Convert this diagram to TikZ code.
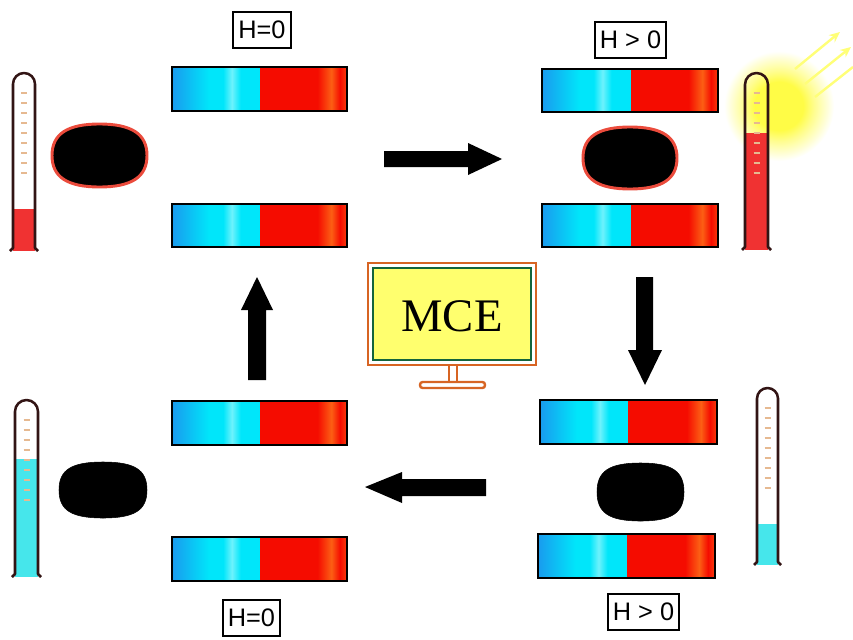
\documentclass[tikz,border=0pt]{standalone}
\usepackage{fontspec}
\newfontfamily\labelfont{Liberation Sans}
\newfontfamily\screenfont{Liberation Serif}
\usetikzlibrary{arrows.meta}

% palette
\definecolor{magblue}{RGB}{25,155,238}
\definecolor{magcyan}{RGB}{0,230,250}
\definecolor{magglint}{RGB}{110,242,252}
\definecolor{magred}{RGB}{245,12,0}
\definecolor{magorange}{RGB}{252,95,20}
\definecolor{thermoline}{RGB}{50,20,20}
\definecolor{hotfluid}{RGB}{240,50,50}
\definecolor{coldfluid}{RGB}{70,230,235}
\definecolor{tickcol}{RGB}{230,185,145}
\definecolor{puckrim}{RGB}{235,75,60}
\definecolor{screenframe}{RGB}{215,100,35}
\definecolor{screenedge}{RGB}{20,100,60}
\definecolor{screenfill}{RGB}{255,255,110}
\definecolor{sunyellow}{RGB}{255,252,70}
\definecolor{raycol}{RGB}{255,255,120}

% bar-magnet halves (the path spans 25bp..75bp of the shading)
\pgfdeclarehorizontalshading{magleft}{100bp}{color(0bp)=(magblue); color(25bp)=(magblue);
  color(46bp)=(magcyan); color(54bp)=(magcyan); color(59bp)=(magglint); color(64bp)=(magcyan);
  color(75bp)=(magcyan); color(100bp)=(magcyan)}
\pgfdeclarehorizontalshading{magright}{100bp}{color(0bp)=(magred); color(25bp)=(magred);
  color(58bp)=(magred); color(66bp)=(magorange); color(71bp)=(magred); color(75bp)=(magorange!60!magred);
  color(100bp)=(magorange!60!magred)}
% glow of the sun (25bp is the rim of the circle)
\pgfdeclareradialshading{sunglow}{\pgfpoint{0bp}{0bp}}{color(0bp)=(sunyellow); color(11bp)=(sunyellow);
  color(16bp)=(sunyellow!60!white); color(25bp)=(white); color(50bp)=(white)}

% magnet: x1, y1, split x, x2, y2
\newcommand\magbar[5]{%
  \shade[shading=magleft] (#1,#2) rectangle (#3,#5);
  \shade[shading=magright] (#3,#2) rectangle (#4,#5);
  \draw[line width=2.2pt] (#1,#2) rectangle (#4,#5);
}
% thermometer: left x, right x, top, bottom, fluid level, fluid colour
\newcommand\thermo[6]{%
  \fill[#6] (#1,#5) rectangle (#2,#4);
  \foreach \k in {0,...,8}
    \draw[tickcol, line width=0.8pt] ({(#1+#2)/2-3},{#3+20+10*\k}) -- ({(#1+#2)/2+3},{#3+20+10*\k});
  \draw[thermoline, line width=1.9pt, line join=round]
    (#1-3,#4) -- (#1,#4-3) -- (#1,{#3+(#2-#1)/2})
    arc[start angle=180, end angle=360, radius={(#2-#1)/2}]
    -- (#2,#4-3) -- (#2+3,#4);
}
% sample puck, a squarish oval: centre x, centre y, half width, half height, fullness, style
\newcommand\puck[6]{%
  \draw[#6] ({#1-#3},#2)
    .. controls ({#1-#3},{#2-#5*#4}) and ({#1-#5*#3},{#2-#4}) .. (#1,{#2-#4})
    .. controls ({#1+#5*#3},{#2-#4}) and ({#1+#3},{#2-#5*#4}) .. ({#1+#3},#2)
    .. controls ({#1+#3},{#2+#5*#4}) and ({#1+#5*#3},{#2+#4}) .. (#1,{#2+#4})
    .. controls ({#1-#5*#3},{#2+#4}) and ({#1-#3},{#2+#5*#4}) .. ({#1-#3},#2) -- cycle;
}

\tikzset{
  rimmed/.style={fill=black, draw=puckrim, line width=2.2pt},
  bare/.style={fill=black},
  labelbox/.style={draw, line width=1.5pt, fill=white, font=\labelfont\fontsize{19}{21}\selectfont,
    inner xsep=4pt, inner ysep=0pt, minimum height=27pt},
  bigarrow/.style={fill=black},
  sunray/.style={raycol, line width=1.8pt},
}

\begin{document}
\begin{tikzpicture}[x=0.75pt, y=-0.75pt]
\fill[white] (0,0) rectangle (853,639);
\useasboundingbox (0,0) rectangle (853,639);

% ---------- top left: H = 0, warm sample
\node[labelbox] (h0top) at (262,29.5) {H=0};
\magbar{172}{67}{260}{347}{111}
\magbar{172}{204}{260}{347}{247}
\puck{99.5}{155.5}{47.5}{31.5}{0.68}{rimmed}
\thermo{13}{35}{73}{251}{209}{hotfluid}

% ---------- top right: H > 0, heated sample
\node[labelbox] (hptop) at (630.5,39.5) {H > 0};
\magbar{542}{69}{631}{718}{112}
\magbar{542}{204}{631}{718}{247}
\puck{630}{158}{47}{31}{0.68}{rimmed}
\shade[shading=sunglow] (779,106) circle (55);
\thermo{745}{768}{73}{250}{133}{hotfluid}
\draw[sunray, -{Stealth[length=8pt,width=7pt]}] (795,69) -- (840,32);
\draw[sunray, -{Stealth[length=8pt,width=7pt]}] (805,84) -- (851,47);
\draw[sunray] (815,97) -- (853,67);

% ---------- bottom right: H > 0, cooled sample
\node[labelbox] (hpbot) at (643.5,612) {H > 0};
\magbar{540}{400}{628}{717}{444}
\magbar{538}{534}{627}{715}{578}
\puck{640.5}{492}{43.5}{29}{0.72}{bare}
\thermo{757}{778}{388}{565}{524}{coldfluid}

% ---------- bottom left: H = 0, cold sample
\node[labelbox] (h0bot) at (251.5,618) {H=0};
\magbar{172}{401}{260}{347}{445}
\magbar{172}{537}{260}{347}{581}
\puck{103}{490}{44}{28}{0.72}{bare}
\thermo{15}{38}{400}{577}{459}{coldfluid}

% ---------- cycle arrows
\fill[bigarrow] (384,151) -- (468,151) -- (468,143) -- (502,159) -- (468,175) -- (468,167) -- (384,167) -- cycle;
\fill[bigarrow] (636,277) -- (653,277) -- (653,350) -- (662,350) -- (645,385) -- (628,350) -- (636,350) -- cycle;
\fill[bigarrow] (486,479) -- (486,496) -- (402,496) -- (402,503) -- (365,487) -- (402,472) -- (402,479) -- cycle;
\fill[bigarrow] (248,380) -- (266,380) -- (266,310) -- (273,310) -- (257,277) -- (241,310) -- (248,310) -- cycle;

% ---------- MCE screen
\draw[screenframe, line width=1.9pt, fill=white] (368,263) rectangle (536,365);
\draw[screenedge, line width=1.6pt, fill=screenfill] (373,268) rectangle (531,360);
\draw[screenframe, line width=1.6pt, fill=white] (449,365) rectangle (457,382);
\draw[screenframe, line width=1.8pt, fill=white, rounded corners=2pt] (420,382) rectangle (485,388);
\node[font=\screenfont\fontsize{35}{38}\selectfont] (mce) at (452,316) {MCE};
\end{tikzpicture}
\end{document}
